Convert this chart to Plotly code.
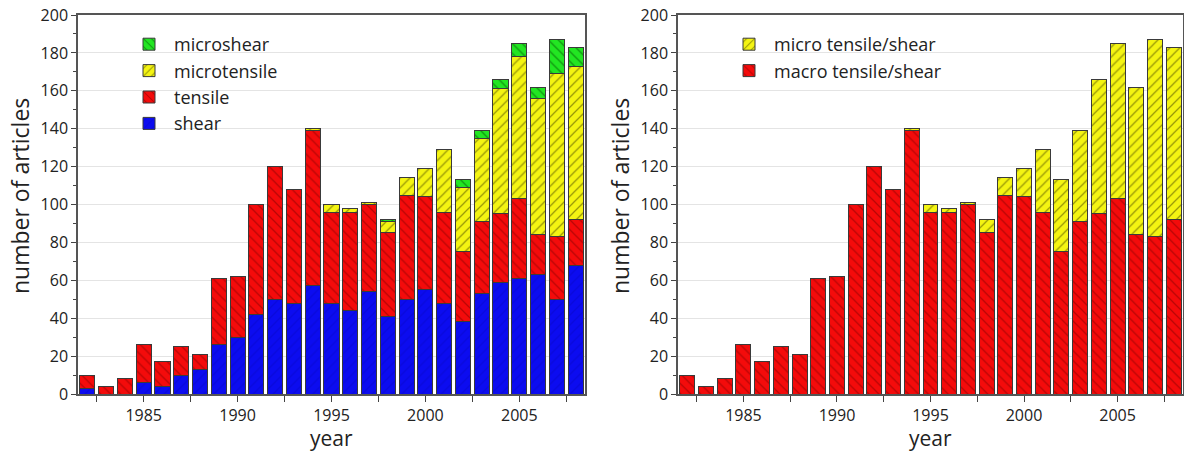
import plotly.graph_objects as go

years = list(range(1982, 2009))
shear = [3, 0, 0, 6, 4, 10, 13, 26, 30, 42, 50, 48, 57, 48, 44, 54, 41, 50, 55, 48, 38, 53, 59, 61, 63, 50, 68]
tensile = [7, 4, 8, 20, 13, 15, 8, 35, 32, 58, 70, 60, 82, 48, 52, 46, 44, 55, 49, 48, 37, 38, 36, 42, 21, 33, 24]
microtensile = [0, 0, 0, 0, 0, 0, 0, 0, 0, 0, 0, 0, 1, 4, 2, 1, 6, 9, 15, 33, 34, 44, 66, 75, 72, 86, 81]
microshear = [0, 0, 0, 0, 0, 0, 0, 0, 0, 0, 0, 0, 0, 0, 0, 0, 1, 0, 0, 0, 4, 4, 5, 7, 6, 18, 10]

macro_ts = [s + t for s, t in zip(shear, tensile)]
micro_ts = [a + b for a, b in zip(microtensile, microshear)]

major_ticks = [1985, 1990, 1995, 2000, 2005]
minor_ticks = [1982.5, 1987.5, 1992.5, 1997.5, 2002.5, 2007.5]

BLUE = "#0c0cf0"
RED = "#f40b0b"
YELLOW = "#f4f412"
GREEN = "#22e622"
FONT = "Open Sans"
TXT = "#222222"

def pat(shape, fg, op):
    return dict(shape=shape, fgcolor=fg, fgopacity=op, size=7, solidity=0.18)

fig = go.Figure()

def add(y, name, color, pattern, xa, ya, leg, grp, rank):
    fig.add_trace(go.Bar(
        x=years, y=y, name=name, xaxis=xa, yaxis=ya, legend=leg, legendgroup=grp,
        legendrank=rank,
        marker=dict(color=color, line=dict(color="#3a3a3a", width=1), pattern=pattern),
    ))

add(shear, "shear", BLUE, pat("/", "#000060", 0.15), "x", "y", "legend", "a", 4)
add(tensile, "tensile", RED, pat("\\", "#700000", 0.45), "x", "y", "legend", "b", 3)
add(microtensile, "microtensile", YELLOW, pat("/", "#4a4a00", 0.55), "x", "y", "legend", "c", 2)
add(microshear, "microshear", GREEN, pat("\\", "#004400", 0.5), "x", "y", "legend", "d", 1)

add(macro_ts, "macro tensile/shear", RED, pat("\\", "#700000", 0.45), "x2", "y2", "legend2", "e", 2)
add(micro_ts, "micro tensile/shear", YELLOW, pat("/", "#4a4a00", 0.55), "x2", "y2", "legend2", "f", 1)

W, H = 1184, 453

def xax(d0, d1, anchor):
    return dict(
        domain=[d0 / W, d1 / W], anchor=anchor, range=[1981.5, 2008.5],
        tickmode="array", tickvals=major_ticks, ticks="outside", ticklen=6, tickwidth=1.2,
        tickcolor="#444", showline=True, mirror=True, linecolor="#555", linewidth=1.5,
        showgrid=False, zeroline=False,
        tickfont=dict(family=FONT, size=16, color=TXT),
        minor=dict(tickmode="array", tickvals=minor_ticks, ticks="outside", ticklen=6,
                   tickcolor="#444", showgrid=False),
    )

def yax(anchor):
    return dict(
        domain=[0, 1], anchor=anchor, range=[0, 200], dtick=20, tick0=0,
        ticks="outside", ticklen=5, tickwidth=1.2, tickcolor="#444",
        showline=True, mirror=True, linecolor="#555", linewidth=1.5,
        showgrid=True, gridcolor="#e4e4e4", gridwidth=1, zeroline=False,
        tickfont=dict(family=FONT, size=16, color=TXT),
        minor=dict(dtick=10, ticks="outside", ticklen=3, tickcolor="#444", showgrid=False),
    )

def ann(x, y, text, angle=0, size=23, yanchor="middle"):
    return dict(x=x / W, y=(394 - y) / 379, xref="paper", yref="paper", text=text,
                showarrow=False, textangle=angle, xanchor="center", yanchor=yanchor,
                borderpad=0, font=dict(family=FONT, size=size, color=TXT))

def leg(x):
    return dict(x=x / W, y=(394 - 26) / 379, xanchor="left", yanchor="top",
                traceorder="grouped", tracegroupgap=0, bgcolor="rgba(0,0,0,0)",
                font=dict(family=FONT, size=18, color=TXT), itemwidth=40)

fig.update_layout(
    width=W, height=H,
    margin=dict(l=0, r=0, t=15, b=59),
    paper_bgcolor="white", plot_bgcolor="white",
    barmode="stack", bargap=0.2,
    xaxis=xax(78, 585, "y"), yaxis=yax("x"),
    xaxis2=xax(678, 1183, "y2"), yaxis2=yax("x2"),
    legend=leg(124), legend2=leg(724),
    annotations=[
        ann(20, 196, "number of articles", -90),
        ann(620, 196, "number of articles", -90),
        ann(331, 453, "year", size=21, yanchor="bottom"),
        ann(930, 453, "year", size=21, yanchor="bottom"),
    ],
)

fig.write_html("out.html", config={"displayModeBar": False},
               post_script="document.body.style.margin='0';document.body.style.overflow='hidden';")
